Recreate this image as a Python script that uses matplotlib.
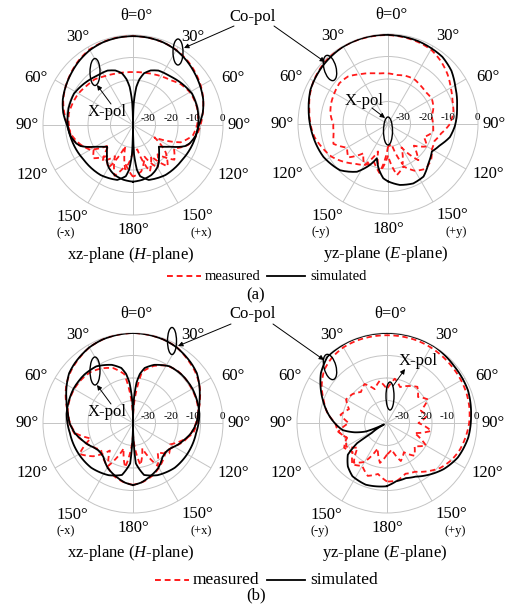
import numpy as np
import matplotlib
matplotlib.use("Agg")
import matplotlib.pyplot as plt
from matplotlib.patches import Ellipse
from matplotlib.lines import Line2D

plt.rcParams['font.family'] = ['Liberation Serif', 'DejaVu Serif']
plt.rcParams['mathtext.fontset'] = 'custom'
plt.rcParams['mathtext.rm'] = 'Liberation Serif'
plt.rcParams['mathtext.it'] = 'Liberation Serif:italic'

# ---------------- data (theta in degrees, clockwise from +z; values in dB) -------------
ring_values = [-30, -20, -10, 0]
ring_labels = ["-30", "-20", "-10", "0"]
angle_labels = ["30°", "60°", "90°", "120°", "150°"]
meas_th = list(range(-180, 181, 10))

# (a) xz-plane (H-plane)
aH_co_sim_th = [-180, -170, -160, -155, -150, -145, -140, -135, -130, -125, -120, -115, -112, -108, -100,
                -90, -80, -70, -60, -50, -40, -30, -20, -10, 0, 10, 20, 30, 40, 50, 60, 70, 80, 90,
                100, 108, 112, 115, 120, 125, 130, 135, 140, 145, 150, 155, 160, 170, 180]
aH_co_sim = [-14.8, -15.3, -16.3, -17.2, -18.3, -19.9, -22, -23.6, -25, -23.2, -20.7, -17, -15, -13.5, -11.8,
             -10.7, -8.5, -6.8, -5.5, -4.2, -2.8, -1.6, -0.9, -0.6, -0.5, -0.6, -0.9, -1.6, -2.8, -4.2, -5.5, -6.8, -8.5,
             -10.7, -11.8, -13.5, -15, -17, -20.7, -23.2, -25, -23.6, -22, -19.9, -18.3, -17.2, -16.3, -15.3, -14.8]
aH_x_sim_th = [-180, -178, -175, -172, -164, -147, -125, -105, -90, -75, -62, -50, -37, -25, -18, -12, -8, -5, -2, 0,
               2, 5, 8, 12, 18, 25, 37, 50, 62, 75, 90, 105, 125, 147, 164, 172, 175, 178, 180]
aH_x_sim = [-40, -27, -20, -17, -14.6, -13.5, -13.2, -12, -11, -10.4, -10.3, -11.5, -12.8, -13.3, -14.5, -16.5, -19.5,
            -23, -30, -40, -30, -23, -19.5, -16.5, -14.5, -13.3, -12.8, -11.5, -10.3, -10.4, -11, -12, -13.2, -13.5,
            -14.6, -17, -20, -27, -40]
aH_co_meas = [-17, -22, -16, -24, -19, -26, -18, -15, -12.5, -11, -9, -7, -5.5, -4, -2.5, -1.3, -0.8, -0.5, -0.5,
              -0.6, -0.9, -1.5, -2.5, -3.8, -5.2, -6.8, -8.5, -10, -11.5, -14, -19, -16, -23, -18, -25, -19, -17]
aH_x_meas = [-28, -20, -30, -18, -22, -17, -20, -14, -12, -11.5, -11, -11.5, -12, -13, -13.5, -15, -15.8, -16.3, -16.5,
             -16.3, -15.8, -15, -14, -12, -10.8, -10.5, -10.6, -11.5, -13, -17.5, -29, -21, -16, -24, -18, -29, -28]

# (a) yz-plane (E-plane)
aE_co_sim_th = [-180, -175, -168, -162, -156, -147, -134, -117, -100, -90, -80, -66, -49, -31, -15, 0, 20, 39, 50,
                61, 76, 84, 92, 102, 112, 122, 134, 146, 157, 169, 180]
aE_co_sim = [-14.5, -15.8, -19.8, -24, -20, -14.7, -10.4, -7.8, -6.3, -5.3, -4.2, -2.3, -1.2, -0.3, -0.2, -0.4, -0.8,
             -1.6, -3.2, -5.8, -8.4, -9.3, -10.3, -11.9, -15, -17, -15, -11.8, -11.3, -12.4, -14.5]
aE_co_meas = [-26, -18, -22, -19, -17, -14, -11, -9, -6.8, -5.5, -4.5, -3, -1.8, -1, -0.4, -0.3, -0.3, -0.4, -0.5,
              -0.8, -1.2, -1.8, -3.5, -5.5, -7.8, -9.5, -10.5, -12.5, -16, -18, -17.5, -15, -14, -16, -20, -17, -26]
aE_x_meas = [-30, -18, -27, -18.8, -23, -16.9, -19, -14.2, -15.5, -15.7, -14, -13.1, -12.5, -11.8, -12.4, -14.5, -16,
             -17.2, -17.5, -17.9, -17.2, -16.9, -17.6, -18, -17.5, -18.5, -20.3, -20, -19.6, -23, -20, -25, -19, -28,
             -21, -31, -30]

# (b) xz-plane (H-plane)
bH_co_sim_th = [-180, -172, -165, -158, -151, -145, -139, -133, -128, -122, -116, -108, -100, -90, -81, -70, -60, -52,
                -45, -35, -30, -20, -10, 0, 10, 20, 30, 35, 45, 52, 60, 70, 81, 90, 100, 108, 116, 122, 128, 133, 139,
                145, 151, 158, 165, 172, 180]
bH_co_sim = [-12.4, -13.3, -14.6, -15.8, -17, -18.5, -20, -20.5, -20.4, -19.5, -17.9, -16, -13.8, -11.8, -10.7, -8.5,
             -6, -4, -3, -1.8, -1.2, -0.5, -0.2, 0, -0.2, -0.5, -1.2, -1.8, -3, -4, -6, -8.5, -10.7, -11.8, -13.8, -16,
             -17.9, -19.5, -20.4, -20.5, -20, -18.5, -17, -15.8, -14.6, -13.3, -12.4]
bH_x_sim_th = [-180, -178, -176, -168, -155, -137, -119, -99, -82, -60, -45, -33, -20, -12, -8, -5, -2, 0,
               2, 5, 8, 12, 20, 33, 45, 60, 82, 99, 119, 137, 155, 168, 176, 178, 180]
bH_x_sim = [-40, -32, -22, -16.4, -14.4, -12.8, -12.2, -11.6, -10.2, -9.5, -9.5, -10, -12.5, -15, -18, -22, -30, -40,
            -30, -22, -18, -15, -12.5, -10, -9.5, -9.5, -10.2, -11.6, -12.2, -12.8, -14.4, -16.4, -22, -32, -40]
bH_co_meas = [-12.5, -13.5, -15, -17.5, -19.5, -21.5, -19, -16.5, -13.5, -11.8, -10.5, -8.2, -5.8, -4, -2.6, -1.2,
              -0.5, -0.2, 0, -0.2, -0.5, -1.1, -2.7, -4.1, -5.9, -8.3, -10.5, -12, -13.8, -16, -19, -21, -19, -17,
              -15, -13.5, -12.5]
bH_x_meas = [-35, -20, -28, -18, -24, -17, -12.5, -20, -14, -12, -10.5, -10, -9.8, -10, -10.5, -12, -14, -18, -38,
             -17, -13, -10.5, -9.5, -9.5, -9.8, -10, -10.5, -11.5, -13, -17, -21, -19, -23, -18, -28, -21, -35]

# (b) yz-plane (E-plane)
bE_co_sim_th = [-180, -161, -147, -138, -129, -124, -123, -116, -112, -106, -99, -83, -70, -53, -42, -25, 0, 15, 32,
                50, 68, 85, 100, 116, 129, 143, 152, 161, 171, 180]
bE_co_sim = [-11.9, -11, -11.8, -14, -17.6, -24, -32, -38.5, -30, -25, -20, -14.2, -9.6, -3.2, -0.4, 0, 0, 0, 0,
             -0.9, -1.2, -2.5, -3.3, -5, -7.5, -10.9, -13, -14.1, -13.8, -12]
bE_co_meas = [-14, -17, -15, -18, -16, -20, -18, -21, -18, -17, -13, -10, -6.5, -3.5, -2, -1.2, -1, -1, -1,
              -1, -1, -1.2, -1.5, -1.8, -2, -2.3, -2.8, -3.5, -4.5, -5.5, -7, -9, -12, -15, -16, -14, -14]
bE_x_meas = [-26, -22, -28, -20, -17, -23, -19, -21, -18, -23, -19, -22, -19, -20, -22, -20, -24, -21, -25,
             -20, -23, -21, -19, -22, -19, -24, -22, -26, -20, -27, -20, -24, -21, -25, -22, -28, -26]

panels = [
    dict(c=(133, 125), side="x", title="xz-plane ($\\mathit{H}$-plane)",
         sim=[(aH_co_sim_th, aH_co_sim), (aH_x_sim_th, aH_x_sim)], meas=[aH_co_meas, aH_x_meas]),
    dict(c=(388, 124), side="y", title="yz-plane ($\\mathit{E}$-plane)",
         sim=[(aE_co_sim_th, aE_co_sim)], meas=[aE_co_meas, aE_x_meas]),
    dict(c=(133, 423), side="x", title="xz-plane ($\\mathit{H}$-plane)",
         sim=[(bH_co_sim_th, bH_co_sim), (bH_x_sim_th, bH_x_sim)], meas=[bH_co_meas, bH_x_meas]),
    dict(c=(387, 423), side="y", title="yz-plane ($\\mathit{E}$-plane)",
         sim=[(bE_co_sim_th, bE_co_sim)], meas=[bE_co_meas, bE_x_meas]),
]

W, H = 513, 608
R = 90
fig = plt.figure(figsize=(W / 100, H / 100), dpi=100)
fig.patch.set_facecolor('white')
grid_col = '#c4c4c4'
red = '#ff1a1a'


def arcify(line, steps=12):
    # let the polar transform draw each segment as a curve in (theta, r)
    line.get_path()._interpolation_steps = steps


for p in panels:
    cx, cy = p['c']
    ax = fig.add_axes([(cx - R) / W, 1 - (cy + R) / H, 2 * R / W, 2 * R / H], projection='polar')
    ax.set_theta_zero_location('N')
    ax.set_theta_direction(-1)
    ax.set_ylim(-40, 0)
    ax.set_rticks(ring_values[:-1])
    ax.set_yticklabels([])
    ax.set_thetagrids(range(0, 360, 30), labels=[])
    ax.grid(True, color=grid_col, lw=0.7)
    ax.spines['polar'].set_color(grid_col)
    ax.spines['polar'].set_linewidth(0.7)
    ax.tick_params(length=0)
    for vals in p['meas']:
        ln, = ax.plot(np.deg2rad(meas_th), vals, color=red, lw=1.3, ls=(0, (3, 2)), zorder=3)
        arcify(ln)
    for th, vals in p['sim']:
        ln, = ax.plot(np.deg2rad(th), vals, color='black', lw=1.3, zorder=4)
        arcify(ln)

# overlay in pixel coordinates for labels and annotations
ov = fig.add_axes([0, 0, 1, 1], zorder=10)
ov.set_xlim(0, W)
ov.set_ylim(H, 0)
ov.axis('off')

lab_off = [((-55, -88), (60, -88)), ((-97, -47), (100, -47)), ((-106, 0), (106, 0)),
           ((-101, 50), (100, 50)), ((-61, 92), (64, 91))]
for p in panels:
    cx, cy = p['c']
    ov.text(cx + 3, cy - 109, "θ=0°", ha='center', va='center', fontsize=12)
    for lab, (lo, ro) in zip(angle_labels, lab_off):
        ov.text(cx + lo[0], cy + lo[1], lab, ha='center', va='center', fontsize=12)
        ov.text(cx + ro[0], cy + ro[1], lab, ha='center', va='center', fontsize=12)
    ov.text(cx, cy + 105, "180°", ha='center', va='center', fontsize=12)
    s = p['side']
    ov.text(cx - 67, cy + 108, "(-%s)" % s, ha='center', va='center', fontsize=9)
    ov.text(cx + 68, cy + 108, "(+%s)" % s, ha='center', va='center', fontsize=9)
    ov.text(cx - 2, cy + 130, p['title'], ha='center', va='center', fontsize=12)
    for rv, rl in zip(ring_values, ring_labels):
        rp = (rv + 40) / 40 * R
        ov.text(cx + rp + (2 if rv == 0 else 0), cy - 2, rl, ha='right', va='bottom', fontsize=8)

# ellipses (center, width, height, angle)
ells = [((178, 52), 10, 26, 0), ((95, 72), 10, 27, 0), ((330, 68), 12, 26, -15), ((388, 131), 9, 28, 0),
        ((172, 341), 9, 27, 0), ((95, 371), 10, 28, 0), ((330, 367), 12, 26, -15), ((390, 396), 8, 28, 0)]
for (ex, ey), w, h, a in ells:
    ov.add_patch(Ellipse((ex, ey), w, h, angle=a, fill=False, ec='black', lw=1.0))

aprops = dict(arrowstyle='-|>', lw=0.7, color='black', mutation_scale=7, shrinkA=0, shrinkB=0)
# Co-pol labels
for ty in (17, 314):
    ov.text(253, ty, "Co-pol", ha='center', va='center', fontsize=12)
ov.annotate('', xy=(184, 48), xytext=(234, 26), arrowprops=aprops)
ov.annotate('', xy=(325, 62), xytext=(274, 26), arrowprops=aprops)
ov.annotate('', xy=(178, 346), xytext=(231, 324), arrowprops=aprops)
ov.annotate('', xy=(324, 360), xytext=(273, 324), arrowprops=aprops)
# X-pol labels
ov.text(107, 112, "X-pol", ha='center', va='center', fontsize=12)
ov.annotate('', xy=(97, 85), xytext=(111, 104), arrowprops=aprops)
ov.text(364, 101, "X-pol", ha='center', va='center', fontsize=12)
ov.annotate('', xy=(385, 118), xytext=(372, 108), arrowprops=aprops)
ov.text(107, 412, "X-pol", ha='center', va='center', fontsize=12)
ov.annotate('', xy=(97, 385), xytext=(111, 404), arrowprops=aprops)
ov.text(418, 361, "X-pol", ha='center', va='center', fontsize=12)
ov.annotate('', xy=(405, 369), xytext=(393, 386), arrowprops=aprops)

# legends
def legend(y, x0, fs, sub, suby):
    ov.add_line(Line2D([x0, x0 + 34], [y, y], color=red, lw=1.4, ls=(0, (3, 2))))
    ov.text(x0 + 38, y, "measured", ha='left', va='center', fontsize=fs)
    xs = 267
    ov.add_line(Line2D([xs, xs + 38], [y, y], color='black', lw=1.3))
    ov.text(xs + 43, y, "simulated", ha='left', va='center', fontsize=fs)
    ov.text(256, suby, sub, ha='center', va='center', fontsize=12)

legend(276, 167, 10.5, "(a)", 295)
legend(580, 155, 12.5, "(b)", 595)

fig.savefig("out.png", dpi=100, facecolor='white')
